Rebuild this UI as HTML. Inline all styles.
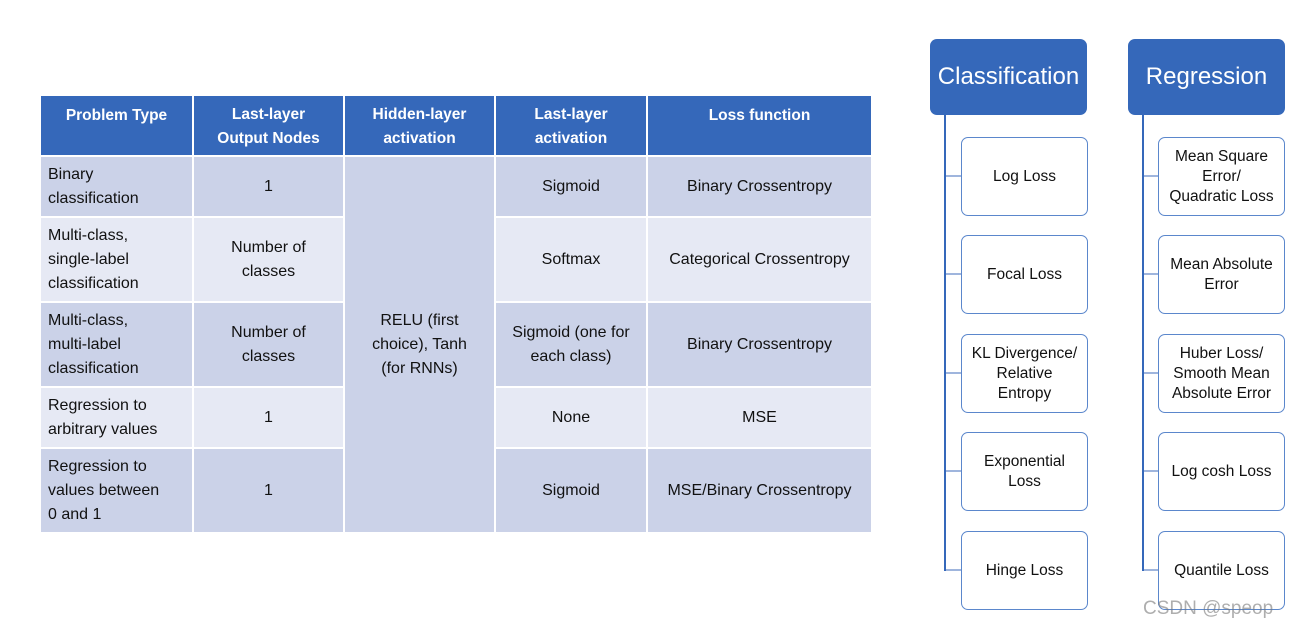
<!DOCTYPE html>
<html><head><style>
body{margin:0;width:1310px;height:634px;background:#fff;position:relative;font-family:"Liberation Sans",sans-serif;overflow:hidden}
.c{position:absolute;display:flex;align-items:center;box-sizing:border-box;font-size:16px;color:#111;line-height:24px}
.h{background:#3568ba;color:#fff;font-weight:bold;justify-content:center;text-align:center;font-size:15.5px;line-height:24px;padding-top:2px}
.d{background:#cbd2e8}.l{background:#e6e9f4}
.ctr{justify-content:center;text-align:center}
.lft{padding-left:7px}
.t{position:absolute;background:#3568ba;color:#fff;border-radius:7px;font-size:24px;display:flex;align-items:center;justify-content:center}
.b{position:absolute;border:1.5px solid #5b87cc;border-radius:7px;background:#fff;display:flex;align-items:center;justify-content:center;text-align:center;font-size:15.5px;line-height:20px;color:#111;box-sizing:border-box}
.v{position:absolute;width:2px;background:#3568ba}
.hl{position:absolute;height:2px;background:#9fb5dd}
</style></head><body>
<div class="c h" style="left:41px;top:96px;width:151px;height:59px;align-items:flex-start;padding-top:8px">Problem Type</div>
<div class="c h" style="left:194px;top:96px;width:149px;height:59px">Last-layer<br>Output Nodes</div>
<div class="c h" style="left:345px;top:96px;width:149px;height:59px">Hidden-layer<br>activation</div>
<div class="c h" style="left:496px;top:96px;width:150px;height:59px">Last-layer<br>activation</div>
<div class="c h" style="left:648px;top:96px;width:223px;height:59px;align-items:flex-start;padding-top:8px">Loss function</div>
<div class="c d ctr" style="left:345px;top:157px;width:149px;height:375px">RELU (first<br>choice), Tanh<br>(for RNNs)</div>
<div class="c d lft" style="left:41px;top:157px;width:151px;height:59px">Binary<br>classification</div>
<div class="c d ctr" style="left:194px;top:157px;width:149px;height:59px">1</div>
<div class="c d ctr" style="left:496px;top:157px;width:150px;height:59px">Sigmoid</div>
<div class="c d ctr" style="left:648px;top:157px;width:223px;height:59px">Binary Crossentropy</div>
<div class="c l lft" style="left:41px;top:218px;width:151px;height:83px">Multi-class,<br>single-label<br>classification</div>
<div class="c l ctr" style="left:194px;top:218px;width:149px;height:83px">Number of<br>classes</div>
<div class="c l ctr" style="left:496px;top:218px;width:150px;height:83px">Softmax</div>
<div class="c l ctr" style="left:648px;top:218px;width:223px;height:83px">Categorical Crossentropy</div>
<div class="c d lft" style="left:41px;top:303px;width:151px;height:83px">Multi-class,<br>multi-label<br>classification</div>
<div class="c d ctr" style="left:194px;top:303px;width:149px;height:83px">Number of<br>classes</div>
<div class="c d ctr" style="left:496px;top:303px;width:150px;height:83px">Sigmoid (one for<br>each class)</div>
<div class="c d ctr" style="left:648px;top:303px;width:223px;height:83px">Binary Crossentropy</div>
<div class="c l lft" style="left:41px;top:388px;width:151px;height:59px">Regression to<br>arbitrary values</div>
<div class="c l ctr" style="left:194px;top:388px;width:149px;height:59px">1</div>
<div class="c l ctr" style="left:496px;top:388px;width:150px;height:59px">None</div>
<div class="c l ctr" style="left:648px;top:388px;width:223px;height:59px">MSE</div>
<div class="c d lft" style="left:41px;top:449px;width:151px;height:83px">Regression to<br>values between<br>0 and 1</div>
<div class="c d ctr" style="left:194px;top:449px;width:149px;height:83px">1</div>
<div class="c d ctr" style="left:496px;top:449px;width:150px;height:83px">Sigmoid</div>
<div class="c d ctr" style="left:648px;top:449px;width:223px;height:83px">MSE/Binary Crossentropy</div>
<div class="v" style="left:944px;top:112px;height:459px"></div>
<div class="v" style="left:1142px;top:112px;height:459px"></div>
<div class="t" style="left:930px;top:39px;width:157px;height:76px">Classification</div>
<div class="t" style="left:1128px;top:39px;width:157px;height:76px">Regression</div>
<div class="hl" style="left:946px;top:175px;width:16px"></div>
<div class="hl" style="left:946px;top:273px;width:16px"></div>
<div class="hl" style="left:946px;top:372px;width:16px"></div>
<div class="hl" style="left:946px;top:470px;width:16px"></div>
<div class="hl" style="left:946px;top:569px;width:16px"></div>
<div class="hl" style="left:1144px;top:175px;width:16px"></div>
<div class="hl" style="left:1144px;top:273px;width:16px"></div>
<div class="hl" style="left:1144px;top:372px;width:16px"></div>
<div class="hl" style="left:1144px;top:470px;width:16px"></div>
<div class="hl" style="left:1144px;top:569px;width:16px"></div>
<div class="b" style="left:961px;top:137px;width:127px;height:79px">Log Loss</div>
<div class="b" style="left:961px;top:235px;width:127px;height:79px">Focal Loss</div>
<div class="b" style="left:961px;top:334px;width:127px;height:79px">KL Divergence/<br>Relative<br>Entropy</div>
<div class="b" style="left:961px;top:432px;width:127px;height:79px">Exponential<br>Loss</div>
<div class="b" style="left:961px;top:531px;width:127px;height:79px">Hinge Loss</div>
<div class="b" style="left:1158px;top:137px;width:127px;height:79px">Mean Square<br>Error/<br>Quadratic Loss</div>
<div class="b" style="left:1158px;top:235px;width:127px;height:79px">Mean Absolute<br>Error</div>
<div class="b" style="left:1158px;top:334px;width:127px;height:79px">Huber Loss/<br>Smooth Mean<br>Absolute Error</div>
<div class="b" style="left:1158px;top:432px;width:127px;height:79px">Log cosh Loss</div>
<div class="b" style="left:1158px;top:531px;width:127px;height:79px">Quantile Loss</div>
<div style="position:absolute;left:1143px;top:598px;font-size:19px;color:rgba(120,120,120,0.6)">CSDN @speop</div>
</body></html>
